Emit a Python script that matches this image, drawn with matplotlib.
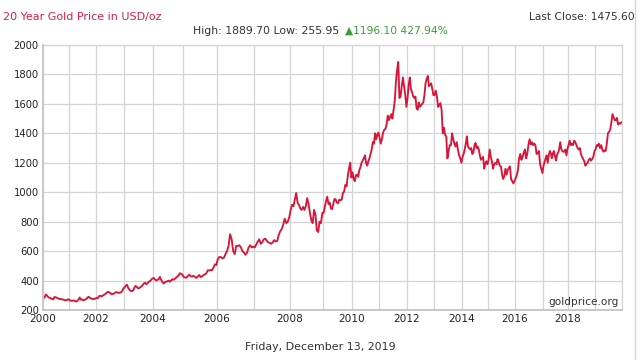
import numpy as np
import matplotlib
matplotlib.use("Agg")
import matplotlib.pyplot as plt
from matplotlib.ticker import FixedLocator

# ---- data: two readings per month, 2000..2019 (USD/oz) ----
p2000 = [288, 284, 305, 300, 290, 284, 283, 277, 276, 272, 288, 287, 284, 280, 277, 274, 275, 271, 272, 268, 266, 267, 270, 273]
p2001 = [266, 264, 262, 263, 265, 259, 258, 263, 272, 285, 270, 272, 267, 266, 272, 275, 285, 290, 282, 280, 275, 274, 275, 278]
p2002 = [283, 280, 293, 297, 292, 296, 302, 305, 312, 320, 324, 318, 314, 306, 310, 312, 318, 322, 318, 316, 318, 320, 330, 345]
p2003 = [355, 365, 372, 350, 338, 330, 328, 332, 350, 364, 358, 348, 348, 355, 360, 370, 380, 385, 375, 382, 392, 396, 405, 414]
p2004 = [418, 408, 400, 405, 408, 425, 405, 390, 380, 388, 392, 395, 400, 392, 400, 410, 405, 412, 420, 428, 435, 450, 445, 440]
p2005 = [425, 420, 420, 432, 440, 428, 428, 432, 424, 418, 428, 438, 424, 428, 438, 442, 450, 470, 468, 472, 470, 488, 510, 505]
p2006 = [545, 560, 560, 550, 555, 580, 600, 635, 715, 680, 600, 580, 635, 635, 640, 625, 600, 590, 575, 590, 625, 640, 625, 630]
p2007 = [625, 645, 665, 680, 650, 660, 680, 685, 670, 660, 655, 650, 660, 675, 665, 670, 710, 735, 750, 780, 820, 790, 800, 830]
p2008 = [880, 915, 905, 950, 995, 930, 915, 890, 880, 900, 880, 905, 960, 920, 860, 810, 790, 880, 850, 740, 730, 800, 790, 860]
p2009 = [860, 900, 940, 970, 920, 930, 890, 885, 920, 955, 950, 930, 925, 950, 945, 950, 995, 1005, 1050, 1040, 1110, 1160, 1200, 1100]
p2010 = [1135, 1090, 1075, 1115, 1120, 1105, 1150, 1170, 1200, 1215, 1230, 1250, 1200, 1180, 1210, 1230, 1260, 1290, 1340, 1330, 1400, 1360, 1390, 1405]
p2011 = [1370, 1330, 1360, 1405, 1425, 1430, 1460, 1520, 1490, 1510, 1530, 1500, 1560, 1620, 1750, 1830, 1885, 1640, 1650, 1720, 1780, 1720, 1660, 1580]
p2012 = [1640, 1730, 1780, 1700, 1680, 1650, 1640, 1650, 1570, 1560, 1610, 1580, 1590, 1600, 1610, 1660, 1740, 1770, 1790, 1720, 1730, 1740, 1700, 1660]
p2013 = [1660, 1690, 1650, 1580, 1590, 1605, 1560, 1400, 1440, 1390, 1380, 1230, 1280, 1320, 1320, 1400, 1360, 1330, 1310, 1340, 1290, 1250, 1230, 1200]
p2014 = [1240, 1260, 1290, 1330, 1380, 1310, 1300, 1290, 1300, 1260, 1270, 1320, 1335, 1300, 1310, 1290, 1250, 1220, 1230, 1240, 1160, 1195, 1210, 1190]
p2015 = [1220, 1290, 1240, 1210, 1160, 1190, 1200, 1190, 1225, 1205, 1180, 1175, 1120, 1090, 1110, 1160, 1120, 1150, 1165, 1175, 1090, 1075, 1060, 1075]
p2016 = [1095, 1115, 1150, 1230, 1260, 1220, 1240, 1270, 1290, 1230, 1260, 1320, 1360, 1325, 1340, 1320, 1330, 1320, 1260, 1265, 1280, 1190, 1160, 1130]
p2017 = [1180, 1205, 1230, 1250, 1200, 1250, 1280, 1265, 1230, 1265, 1280, 1245, 1215, 1255, 1270, 1290, 1340, 1295, 1280, 1275, 1275, 1290, 1250, 1295]
p2018 = [1320, 1350, 1320, 1330, 1320, 1350, 1340, 1320, 1300, 1290, 1300, 1260, 1240, 1225, 1210, 1180, 1195, 1200, 1220, 1230, 1215, 1225, 1240, 1280]
p2019 = [1290, 1320, 1315, 1330, 1300, 1320, 1290, 1275, 1285, 1280, 1330, 1400, 1410, 1425, 1470, 1530, 1510, 1490, 1490, 1505, 1460, 1470, 1465, 1475]

years = list(range(2000, 2020))
series = [p2000, p2001, p2002, p2003, p2004, p2005, p2006, p2007, p2008, p2009,
          p2010, p2011, p2012, p2013, p2014, p2015, p2016, p2017, p2018, p2019]

t = np.concatenate([y + (np.arange(24) + 0.5) / 24 for y in years])
v = np.concatenate(series)

year_ticks = [2000, 2002, 2004, 2006, 2008, 2010, 2012, 2014, 2016, 2018]
y_ticks = [200, 400, 600, 800, 1000, 1200, 1400, 1600, 1800, 2000]

# non-uniform time axis of the source chart (year boundary -> relative position)
knot_years = np.arange(2000, 2021)
knot_pos = np.array([43, 69, 96, 124, 153, 183, 217, 254, 290, 323, 352,
                     379, 407, 434, 462, 488, 515, 543, 568, 595, 622], float)

def fwd(x):
    return np.interp(x, knot_years, knot_pos)

def inv(p):
    return np.interp(p, knot_pos, knot_years)

fig = plt.figure(figsize=(6.4, 3.6), dpi=100)
fig.patch.set_facecolor("white")
ax = fig.add_axes([43/640, 1 - 310/360, (622-43)/640, (310-45)/360])
ax.set_xscale("function", functions=(fwd, inv))
ax.plot(t, v, color="#d9163a", lw=1.35, solid_joinstyle="round")
ax.set_xlim(2000, 2020)
ax.set_ylim(200, 2000)

ax.xaxis.set_major_locator(FixedLocator(year_ticks))
ax.xaxis.set_minor_locator(FixedLocator(list(range(2000, 2021))))
ax.set_xticklabels([str(y) for y in year_ticks])
ax.yaxis.set_major_locator(FixedLocator(y_ticks))
ax.xaxis.set_minor_formatter(plt.NullFormatter())
ax.grid(True, which="both", axis="x", color="#d4d4d4", lw=0.9)
ax.grid(True, which="major", axis="y", color="#d4d4d4", lw=0.9)
ax.set_axisbelow(True)
ax.tick_params(axis="both", which="both", length=0, colors="#222222", pad=3)
ax.tick_params(axis="x", labelsize=7.6)
ax.tick_params(axis="y", labelsize=7.2)
for s in ["top", "right"]:
    ax.spines[s].set_color("#d4d4d4")
    ax.spines[s].set_linewidth(0.9)
for s in ["left", "bottom"]:
    ax.spines[s].set_color("#c8c8c8")
    ax.spines[s].set_linewidth(1.4)

ax.text(0.995, 0.012, "goldprice.org", transform=ax.transAxes, ha="right", va="bottom",
        fontsize=7.6, color="#333333")

fig.text(3/640, 1 - 17/360, "20 Year Gold Price in USD/oz", fontsize=8.0, color="#d81e48",
         ha="left", va="center")
fig.text(635/640, 1 - 17/360, "Last Close: 1475.60", fontsize=7.7, color="#333333",
         ha="right", va="center")
fig.text(193/640, 1 - 31/360, "High: 1889.70 Low: 255.95", fontsize=7.8, color="#333333",
         ha="left", va="center")
fig.text(345/640, 1 - 31/360, "\u25b21196.10 427.94%", fontsize=7.7, color="#3a9f3a",
         ha="left", va="center")
fig.text(320/640, 1 - 347/360, "Friday, December 13, 2019", fontsize=7.9, color="#333333",
         ha="center", va="center")

fig.add_artist(plt.Line2D([635/640, 635/640], [0, 1], transform=fig.transFigure,
                          color="#d8d8d8", lw=1))

fig.savefig("out.png", dpi=100)
